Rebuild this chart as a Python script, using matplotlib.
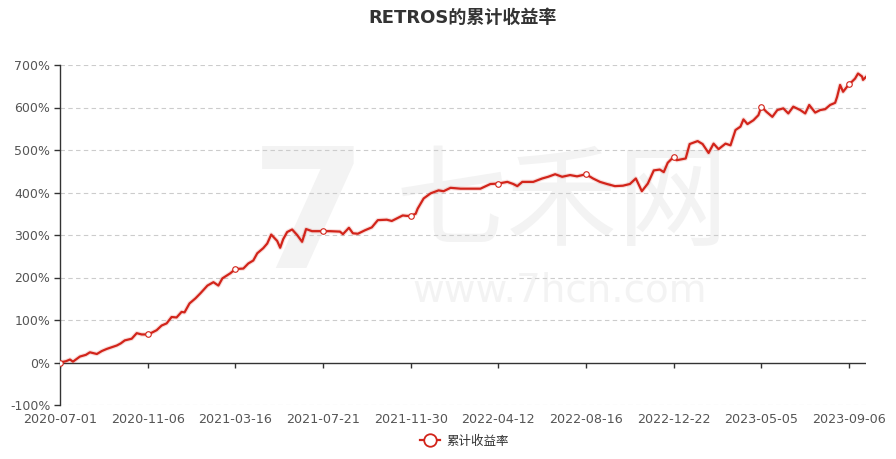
import matplotlib
matplotlib.use("Agg")
import matplotlib.pyplot as plt
from matplotlib.lines import Line2D

plt.rcParams["font.family"] = ["DejaVu Sans", "Noto Sans CJK SC"]

TITLE = "RETROS的累计收益率"
SERIES = "累计收益率"

# trading-day index of each sampled point, and cumulative return (%)
day_idx = [0, 6, 10, 13, 20, 26, 30, 37, 42, 47, 52, 57, 61, 65, 72, 77, 82, 88, 92, 97,
           102, 107, 112, 117, 122, 125, 130, 136, 141, 148, 154, 159, 163, 171, 176, 184,
           189, 194, 198, 204, 208, 212, 218, 221, 224, 228, 233, 238, 243, 247, 253, 264,
           271, 281, 284, 290, 294, 299, 306, 313, 319, 328, 333, 339, 344, 348, 352, 357,
           359, 365, 372, 380, 385, 392, 402, 412, 422, 432, 440, 449, 455, 459, 464, 475,
           484, 490, 497, 504, 512, 519, 528, 535, 542, 549, 557, 565, 572, 578, 584, 590,
           596, 602, 606, 610, 616, 619, 628, 632, 640, 645, 651, 656, 661, 668, 673, 678,
           683, 686, 690, 696, 701, 704, 709, 715, 720, 726, 731, 736, 743, 748, 752, 758,
           763, 768, 773, 778, 780, 783, 786, 792, 795, 798, 801, 805, 806, 809]
cum_ret = [0, 3, 7, 2, 14, 18, 24, 20, 27, 32, 36, 40, 45, 52, 56, 69, 66, 66, 70, 76,
           87, 92, 107, 106, 119, 118, 139, 151, 163, 181, 189, 181, 198, 210, 220, 221,
           233, 240, 257, 269, 280, 301, 286, 270, 290, 307, 313, 300, 284, 314, 309, 309,
           309, 308, 302, 317, 304, 303, 311, 318, 335, 336, 333, 340, 346, 345, 345, 350,
           362, 386, 398, 405, 403, 411, 409, 409, 409, 420, 421, 425, 420, 415, 425, 425,
           433, 437, 443, 437, 441, 438, 443, 433, 425, 420, 415, 416, 420, 433, 403, 421,
           452, 454, 448, 470, 484, 476, 480, 514, 521, 514, 493, 515, 502, 515, 511, 547,
           555, 572, 561, 570, 582, 602, 590, 578, 594, 598, 586, 602, 594, 586, 606, 588,
           594, 596, 606, 611, 625, 653, 637, 655, 661, 668, 680, 673, 665, 672]

tick_idx = [0, 88, 176, 264, 352, 440, 528, 616, 704, 792]
tick_labels = ["2020-07-01", "2020-11-06", "2021-03-16", "2021-07-21", "2021-11-30",
               "2022-04-12", "2022-08-16", "2022-12-22", "2023-05-05", "2023-09-06"]
y_ticks = [-100, 0, 100, 200, 300, 400, 500, 600, 700]

RED = "#d2241a"
TXT = "#555555"
WM = "#f3f3f3"

fig = plt.figure(figsize=(8.96, 4.59), dpi=100)
ax = fig.add_axes([60 / 896, 1 - 405 / 459, 806 / 896, 340 / 459])
ax.patch.set_alpha(0)

# faint watermark, kept beneath the data
wm = dict(transform=fig.transFigure, ha="center", va="center", color=WM, zorder=0.5,
          clip_on=False)
ax.text(0.628, 1 - 205 / 459, "七禾网", fontsize=80, family=["Noto Sans CJK SC"], **wm)
ax.text(0.625, 1 - 290 / 459, "www.7hcn.com", fontsize=28, **wm)
ax.text(0.345, 1 - 222 / 459, "7", fontsize=120, weight="bold", **wm)

ax.set_xlim(0, 809)
ax.set_ylim(-100, 700)

for y in y_ticks:
    if y != 0:
        ax.axhline(y, color="#cccccc", lw=0.8, ls=(0, (4, 3)), zorder=1)
ax.axhline(0, color="#333333", lw=1.0, zorder=2)
tick_len = 5 / 340 * 800
ax.vlines(tick_idx, -tick_len, 0, color="#333333", lw=1.0, zorder=2)

mark_at = [i for i, d in enumerate(day_idx) if d in tick_idx]
ax.plot(day_idx, cum_ret, color=RED, lw=3.2, alpha=0.15, zorder=3,
        solid_joinstyle="round")
ax.plot(day_idx, cum_ret, color=RED, lw=1.6, zorder=4, marker="o", markevery=mark_at,
        markersize=4, markerfacecolor="white", markeredgecolor=RED,
        markeredgewidth=0.8, solid_joinstyle="round")

ax.set_yticks(y_ticks)
ax.set_yticklabels([f"{v}%" for v in y_ticks])
ax.set_xticks(tick_idx)
ax.set_xticklabels(tick_labels)
ax.tick_params(axis="y", length=4, width=1, color="#333333", labelcolor=TXT,
               labelsize=9, pad=3)
ax.tick_params(axis="x", length=0, labelcolor=TXT, labelsize=9.2, pad=6)
for s in ("top", "right", "bottom"):
    ax.spines[s].set_visible(False)
ax.spines["left"].set_color("#333333")
ax.spines["left"].set_linewidth(1.0)

fig.text(0.516, 1 - 18 / 459, TITLE, fontsize=13, weight="bold", color="#333333",
         family=["DejaVu Sans", "Noto Sans CJK SC"], ha="center", va="center")

handle = Line2D([], [], color=RED, lw=1.6, marker="o", markersize=9,
                markerfacecolor="white", markeredgecolor=RED, markeredgewidth=1.3)
fig.legend([handle], [SERIES], loc="center", bbox_to_anchor=(0.518, 1 - 441 / 459),
           frameon=False, handlelength=1.6, handletextpad=0.5,
           prop={"family": "Noto Sans CJK SC", "size": 9}, labelcolor="#333333")

fig.savefig("out.png", dpi=100)
